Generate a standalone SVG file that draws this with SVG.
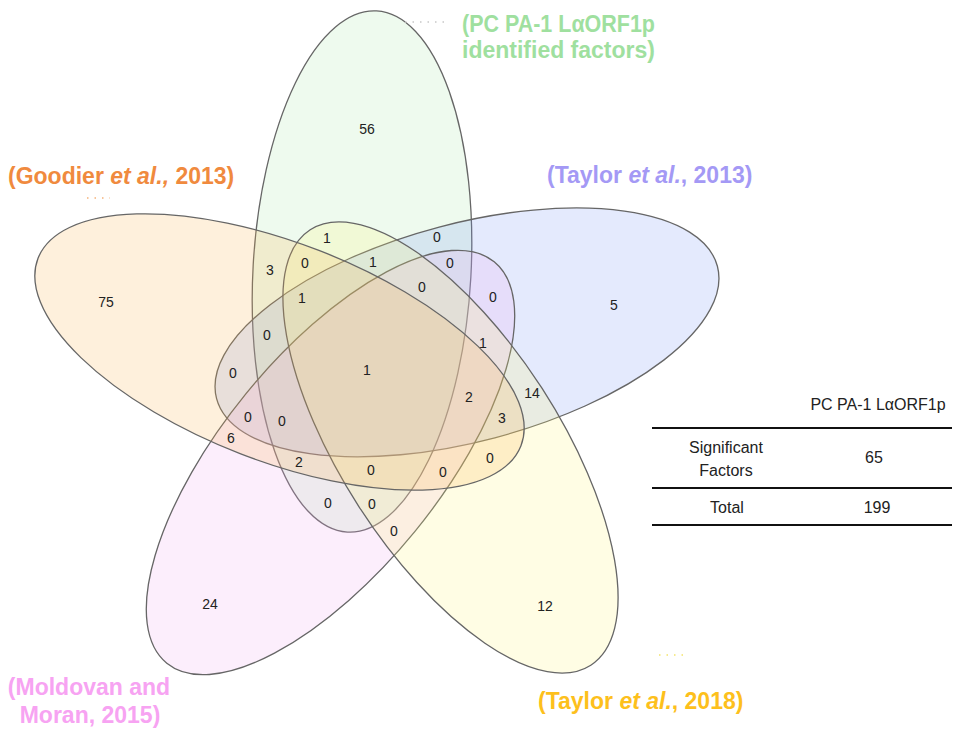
<svg xmlns="http://www.w3.org/2000/svg" width="955" height="729" viewBox="0 0 955 729">
  <style>
    .set { stroke: #666; stroke-width: 1.3; fill-opacity: 0.2; }
    .num { font-family: "Liberation Sans", Arial, sans-serif; font-size: 14px; fill: #222; text-anchor: middle; }
    .title { font-family: "Liberation Sans", Arial, sans-serif; font-size: 23px; font-weight: bold; }
    .tbl { font-family: "Liberation Sans", Arial, sans-serif; font-size: 16px; fill: #222; text-anchor: middle; }
    .rule { stroke: #111; stroke-width: 2; }
    .lead { fill: none; stroke-width: 1.5; stroke-dasharray: 1.5 6; }
  </style>
  <rect width="955" height="729" fill="#fff"/>

  <!-- five overlapping sets: equal ellipses turned 72 degrees apart -->
  <g id="set-pcpa1"><ellipse class="set" fill="#AAE6AA" rx="261" ry="109" transform="translate(362 271.5) rotate(-86.8)"/></g>
  <g id="set-taylor2013"><ellipse class="set" fill="#7896F5" rx="259" ry="109" transform="translate(467 332.4) rotate(-14.8)"/></g>
  <g id="set-moldovan"><ellipse class="set" fill="#F0AAF0" rx="259" ry="109" transform="translate(330.5 462.5) rotate(-50.8)"/></g>
  <g id="set-taylor2018"><ellipse class="set" fill="#FFF578" rx="259" ry="109" transform="translate(450.5 447.5) rotate(57.2)"/></g>
  <g id="set-goodier"><ellipse class="set" fill="#FAB450" rx="259" ry="109" transform="translate(279.5 352) rotate(21.2)"/></g>

  <!-- leader dots by the set titles -->
  <g id="connectors">
    <line class="lead" stroke="#c8c8c8" x1="405" y1="22" x2="446" y2="22"/>
    <line class="lead" stroke="#F5B27A" x1="87" y1="198" x2="110" y2="198" stroke-dasharray="3 17"/>
    <line class="lead" stroke="#F3E36A" x1="659" y1="655" x2="683" y2="655" stroke-dasharray="3 18"/>
  </g>

  <!-- region counts -->
  <g id="counts">
    <text class="num" x="367" y="134">56</text>
    <text class="num" x="106" y="307">75</text>
    <text class="num" x="614" y="310">5</text>
    <text class="num" x="210" y="609">24</text>
    <text class="num" x="545" y="611">12</text>
    <text class="num" x="327" y="243">1</text>
    <text class="num" x="437" y="242">0</text>
    <text class="num" x="270" y="275">3</text>
    <text class="num" x="305" y="268">0</text>
    <text class="num" x="373" y="267">1</text>
    <text class="num" x="450" y="268">0</text>
    <text class="num" x="422" y="292">0</text>
    <text class="num" x="493" y="302">0</text>
    <text class="num" x="302" y="303">1</text>
    <text class="num" x="267" y="340">0</text>
    <text class="num" x="483" y="348">1</text>
    <text class="num" x="233" y="378">0</text>
    <text class="num" x="367" y="375">1</text>
    <text class="num" x="469" y="402">2</text>
    <text class="num" x="532" y="398">14</text>
    <text class="num" x="248" y="422">0</text>
    <text class="num" x="282" y="426">0</text>
    <text class="num" x="502" y="423">3</text>
    <text class="num" x="231" y="443">6</text>
    <text class="num" x="299" y="467">2</text>
    <text class="num" x="371" y="475">0</text>
    <text class="num" x="443" y="477">0</text>
    <text class="num" x="490" y="463">0</text>
    <text class="num" x="328" y="508">0</text>
    <text class="num" x="372" y="509">0</text>
    <text class="num" x="394" y="536">0</text>
  </g>

  <!-- set titles -->
  <g id="title-pcpa1" class="title" fill="#9FE09F">
    <text x="462" y="32" textLength="193" lengthAdjust="spacingAndGlyphs">(PC PA-1 LαORF1p</text>
    <text x="462" y="58">identified factors)</text>
  </g>
  <g id="title-goodier" class="title" fill="#F08A3E">
    <text x="8" y="184">(Goodier <tspan font-style="italic">et al.,</tspan> 2013)</text>
  </g>
  <g id="title-taylor2013" class="title" fill="#A499F5">
    <text x="547" y="183">(Taylor <tspan font-style="italic">et al.</tspan>, 2013)</text>
  </g>
  <g id="title-moldovan" class="title" fill="#F7A3F2" text-anchor="middle">
    <text x="89" y="695">(Moldovan and</text>
    <text x="90" y="723">Moran, 2015)</text>
  </g>
  <g id="title-taylor2018" class="title" fill="#FDC01C">
    <text x="538" y="709">(Taylor <tspan font-style="italic">et al.</tspan>, 2018)</text>
  </g>

  <!-- summary table -->
  <g id="table">
    <text class="tbl" x="878" y="410">PC PA-1 LαORF1p</text>
    <line class="rule" x1="652" y1="428" x2="952" y2="428"/>
    <text class="tbl" x="726" y="453">Significant</text>
    <text class="tbl" x="726" y="476">Factors</text>
    <text class="tbl" x="874" y="463">65</text>
    <line class="rule" x1="652" y1="488" x2="952" y2="488"/>
    <text class="tbl" x="727" y="513">Total</text>
    <text class="tbl" x="877" y="513">199</text>
    <line class="rule" x1="652" y1="525" x2="952" y2="525"/>
  </g>
</svg>
